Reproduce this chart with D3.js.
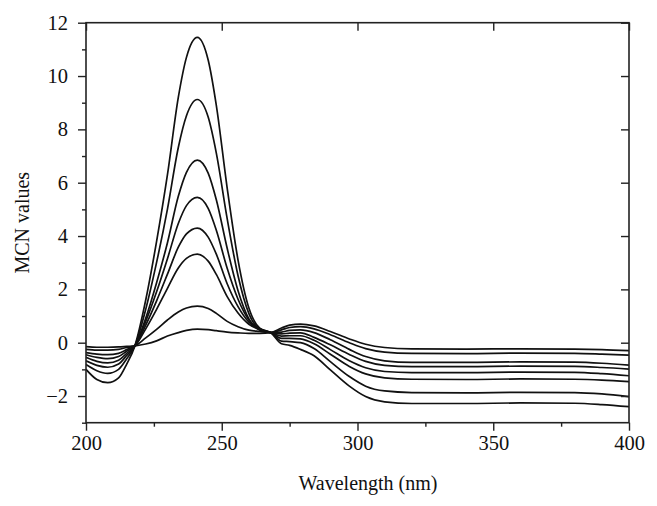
<!DOCTYPE html>
<html><head><meta charset="utf-8">
<script src="https://cdn.jsdelivr.net/npm/d3@7/dist/d3.min.js"></script>
<style>body{margin:0;background:#fff}svg{display:block}</style>
</head><body>
<svg id="chart" width="657" height="506"></svg>
<script>
const wavelength=[200,204,208,212,215,218,222,226,230,234,237,241,245,248,252,256,260,264,268,272,275,279,284,290,297,303,310,320,340,360,380,390,400];
const curve1=[-1.0,-1.38,-1.5,-1.32,-0.8,-0.12,1.6,3.8,6.3,9.2,10.7,11.45,10.6,8.9,5.8,3.1,1.3,0.55,0.38,-0.04,-0.1,-0.25,-0.49,-1.02,-1.63,-2.02,-2.22,-2.28,-2.28,-2.26,-2.27,-2.32,-2.40];
const curve2=[-0.82,-1.05,-1.15,-1.0,-0.6,-0.12,1.25,3.01,5.01,7.32,8.51,9.12,8.46,7.11,4.65,2.51,1.09,0.51,0.38,0.06,0.04,0.0,-0.22,-0.71,-1.27,-1.63,-1.81,-1.87,-1.88,-1.86,-1.87,-1.92,-2.02];
const curve3=[-0.68,-0.85,-0.92,-0.8,-0.48,-0.12,0.92,2.25,3.75,5.49,6.39,6.85,6.36,5.36,3.54,1.95,0.89,0.47,0.38,0.16,0.16,0.14,-0.04,-0.43,-0.89,-1.17,-1.32,-1.37,-1.38,-1.36,-1.37,-1.40,-1.46];
const curve4=[-0.55,-0.7,-0.76,-0.66,-0.4,-0.12,0.80,1.91,3.15,4.47,5.14,5.45,5.04,4.22,2.79,1.63,0.85,0.51,0.38,0.25,0.26,0.26,0.09,-0.26,-0.68,-0.94,-1.08,-1.12,-1.12,-1.1,-1.11,-1.16,-1.24];
const curve5=[-0.45,-0.55,-0.6,-0.52,-0.32,-0.12,0.66,1.57,2.57,3.58,4.08,4.30,3.96,3.32,2.21,1.35,0.77,0.51,0.38,0.33,0.36,0.37,0.20,-0.08,-0.44,-0.70,-0.85,-0.9,-0.9,-0.88,-0.89,-0.93,-0.99];
const curve6=[-0.37,-0.43,-0.45,-0.4,-0.26,-0.12,0.52,1.25,2.04,2.80,3.16,3.32,3.06,2.56,1.73,1.11,0.69,0.50,0.38,0.40,0.46,0.48,0.38,0.11,-0.25,-0.52,-0.68,-0.74,-0.74,-0.72,-0.73,-0.77,-0.84];
const curve7=[-0.25,-0.28,-0.28,-0.25,-0.18,-0.12,0.18,0.5,0.85,1.15,1.3,1.37,1.28,1.1,0.8,0.6,0.47,0.42,0.38,0.48,0.57,0.60,0.52,0.30,0.0,-0.22,-0.35,-0.40,-0.41,-0.39,-0.40,-0.43,-0.47];
const curve8=[-0.15,-0.17,-0.17,-0.16,-0.14,-0.12,-0.05,0.07,0.25,0.38,0.46,0.51,0.49,0.45,0.40,0.37,0.35,0.35,0.38,0.55,0.66,0.70,0.63,0.42,0.14,-0.06,-0.18,-0.23,-0.24,-0.23,-0.24,-0.26,-0.30];
const xMajorTicks=[200,250,300,350,400];
const xMinorTicks=[225,275,325,375];
const yMajorTicks=[-2,0,2,4,6,8,10,12];
const yMinorTicks=[-3,-1,1,3,5,7,9,11];
const xLabel="Wavelength (nm)";
const yLabel="MCN values";

const curves=[curve1,curve2,curve3,curve4,curve5,curve6,curve7,curve8];
const L=86,R=629,T=22.7,B=422.7;
const FONT='"Liberation Serif","DejaVu Serif",serif';
const svg=d3.select("#chart");
const x=d3.scaleLinear().domain([200,400]).range([L,R]);
const y=d3.scaleLinear().domain([-3,12]).range([B,T]);

const line=d3.line().x((d,i)=>x(wavelength[i])).y(d=>y(d)).curve(d3.curveMonotoneX);
svg.append("defs").append("clipPath").attr("id","clip").append("rect")
  .attr("x",L).attr("y",T).attr("width",R-L).attr("height",B-T);
svg.append("g").attr("clip-path","url(#clip)").selectAll("path").data(curves).join("path")
  .attr("d",line).attr("fill","none").attr("stroke","#111").attr("stroke-width",1.7);

function style(g,size){
  g.select(".domain").remove();
  g.selectAll("line").attr("stroke","#222").attr("stroke-width",1.4);
  g.selectAll("text").attr("font-family",FONT).attr("font-size",size).attr("fill","#111");
}
svg.append("g").attr("transform",`translate(0,${B})`)
  .call(d3.axisBottom(x).tickValues(xMajorTicks).tickSize(8).tickPadding(5).tickFormat(d3.format("d")))
  .call(g=>style(g,20.5));
svg.append("g").attr("transform",`translate(0,${B})`)
  .call(d3.axisBottom(x).tickValues(xMinorTicks).tickSize(4).tickFormat(""))
  .call(g=>style(g,20.5));
svg.append("g").attr("transform",`translate(${L},0)`)
  .call(d3.axisLeft(y).tickValues(yMajorTicks).tickSize(8).tickPadding(10))
  .call(g=>style(g,20.5));
svg.append("g").attr("transform",`translate(${L},0)`)
  .call(d3.axisLeft(y).tickValues(yMinorTicks).tickSize(4).tickFormat(""))
  .call(g=>style(g,20.5));
svg.append("g").attr("transform",`translate(0,${T})`)
  .call(d3.axisTop(x).tickValues(xMajorTicks).tickSize(-8).tickFormat(""))
  .call(g=>style(g,20.5));
svg.append("g").attr("transform",`translate(${R},0)`)
  .call(d3.axisRight(y).tickValues(yMajorTicks).tickSize(-8).tickFormat(""))
  .call(g=>style(g,20.5));
svg.append("rect").attr("x",L).attr("y",T).attr("width",R-L).attr("height",B-T)
  .attr("fill","none").attr("stroke","#222").attr("stroke-width",1.6);

svg.append("text").attr("x",368).attr("y",490).attr("text-anchor","middle")
  .attr("font-family",FONT).attr("font-size",20).attr("fill","#111").text(xLabel);
svg.append("text").attr("transform",`translate(29,${(T+B)/2}) rotate(-90)`).attr("text-anchor","middle")
  .attr("font-family",FONT).attr("font-size",20).attr("fill","#111").text(yLabel);
</script>
</body></html>
